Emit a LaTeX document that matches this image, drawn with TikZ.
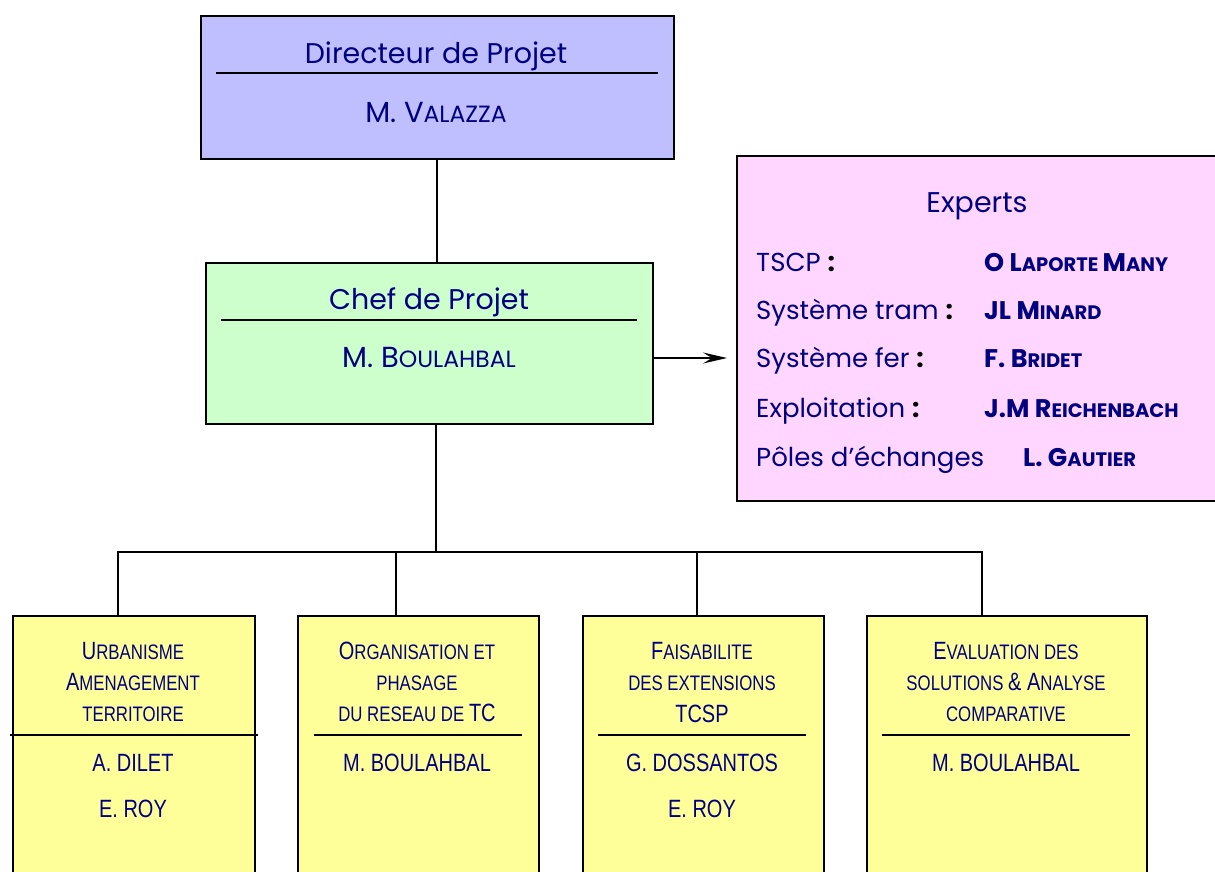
\documentclass[tikz,border=0pt]{standalone}
\usepackage{fontspec}
\setmainfont{Poppins}
\newfontfamily\narrowfont[FakeStretch=0.8]{Liberation Sans}
\usetikzlibrary{arrows.meta}
\definecolor{txt}{RGB}{0,0,128}
\definecolor{dirfill}{RGB}{191,191,255}
\definecolor{cheffill}{RGB}{204,255,204}
\definecolor{expfill}{RGB}{255,214,255}
\definecolor{wpfill}{RGB}{255,255,153}
\newcommand\topT{\fontsize{28.5}{32}\selectfont}
\newcommand\topM{\fontsize{26}{30}\selectfont}
\newcommand\topL{\fontsize{29}{32}\selectfont}
\newcommand\topS{\fontsize{23.5}{27}\selectfont}
\newcommand\eL{\fontsize{25.5}{30}\selectfont\bfseries}
\newcommand\eS{\fontsize{19.5}{23}\selectfont\bfseries}
\newcommand\nL{\narrowfont\fontsize{25}{30}\selectfont}
\newcommand\nS{\narrowfont\fontsize{21}{25}\selectfont}
\newcommand\colonb{{\color{black}\bfseries :}}
\tikzset{
  box/.style={draw=black, line width=1.6pt, rectangle, anchor=north west, inner sep=0pt},
  sep/.style={line width=2pt},
  conn/.style={line width=2pt},
  lbl/.style={anchor=base, inner sep=0pt, text=txt},
  lbll/.style={anchor=base west, inner sep=0pt, text=txt},
}
\begin{document}
\begin{tikzpicture}[x=1pt,y=-1pt]
\useasboundingbox (0,0) rectangle (1215,871);
% boxes
\node[box, fill=dirfill, minimum width=473pt, minimum height=143pt] (dir) at (200,15) {};
\node[box, fill=cheffill, minimum width=447pt, minimum height=161pt] (chef) at (205,262) {};
\node[box, fill=expfill, minimum width=495pt, minimum height=345pt] (exp) at (736,155) {};
\node[box, fill=wpfill, minimum width=242pt, minimum height=300pt] (wp1) at (12,615) {};
\node[box, fill=wpfill, minimum width=241pt, minimum height=300pt] (wp2) at (297,615) {};
\node[box, fill=wpfill, minimum width=241pt, minimum height=300pt] (wp3) at (582,615) {};
\node[box, fill=wpfill, minimum width=280pt, minimum height=300pt] (wp4) at (866,615) {};
% separators
\draw[sep] (216,73) -- (658,73);
\draw[sep] (221,320) -- (637,320);
\draw[sep] (10,735) -- (258,735);
\draw[sep] (314,735) -- (522,735);
\draw[sep] (598,735) -- (806,735);
\draw[sep] (882,735) -- (1130,735);
% connectors
\draw[conn] (dir.south) -- (dir.south |- chef.north);
\coordinate (bus) at (436,552);
\draw[conn] (bus |- chef.south) -- (bus);
\coordinate (t1) at (118,615);
\coordinate (t2) at (396,615);
\coordinate (t3) at (697,615);
\coordinate (t4) at (982,615);
\draw[conn] (t1) -- ++(0,-63) -| (t4);
\draw[conn] (t2) -- ++(0,-63);
\draw[conn] (t3) -- ++(0,-63);
\coordinate (a0) at (652,358);
\coordinate (a1) at (727,358);
\draw[conn, -{Stealth[length=24pt,width=11pt,inset=9pt]}] (a0) -- (a1);
% top texts
\node[lbl] (t-dir) at (436,63) {\topT Directeur de Projet};
\node[lbl] (n-dir) at (436,122) {\topL M. V\topS ALAZZA};
\node[lbl] (t-chef) at (429,309) {\topT Chef de Projet};
\node[lbl] (n-chef) at (429,367) {\topL M. B\topS OULAHBAL};
% experts
\node[lbl] (t-exp) at (977,212) {\topT Experts};
\node[lbll] (e1) at (756,271) {\topM TSCP \colonb};
\node[lbll] (e2) at (756,319) {\topM Système tram \colonb};
\node[lbll] (e3) at (756,367) {\topM Système fer \colonb};
\node[lbll] (e4) at (756,417) {\topM Exploitation \colonb};
\node[lbll] (e5) at (756,466) {\topM Pôles d’échanges};
\node[lbll] (f1) at (984,271) {\eL O L\eS APORTE \eL M\eS ANY};
\node[lbll] (f2) at (984,319) {\eL JL M\eS INARD};
\node[lbll] (f3) at (984,367) {\eL F. B\eS RIDET};
\node[lbll] (f4) at (984,417) {\eL J.M R\eS EICHENBACH};
\node[lbll] (f5) at (1023,466) {\eL L. G\eS AUTIER};
% bottom box texts
\node[lbl] (w1a) at (133,659) {\nL U\nS RBANISME};
\node[lbl] (w1b) at (133,690) {\nL A\nS MENAGEMENT};
\node[lbl] (w1c) at (133,721) {\nS TERRITOIRE};
\node[lbl] (w1d) at (133,771) {\nL A. DILET};
\node[lbl] (w1e) at (133,817) {\nL E. ROY};
\node[lbl] (w2a) at (417,659) {\nL O\nS RGANISATION ET};
\node[lbl] (w2b) at (417,690) {\nS PHASAGE};
\node[lbl] (w2c) at (417,721) {\nS DU RESEAU DE \nL TC};
\node[lbl] (w2d) at (417,771) {\nL M. BOULAHBAL};
\node[lbl] (w3a) at (702,659) {\nL F\nS AISABILITE};
\node[lbl] (w3b) at (702,690) {\nS DES EXTENSIONS};
\node[lbl] (w3c) at (702,722) {\nL TCSP};
\node[lbl] (w3d) at (702,771) {\nL G. DOSSANTOS};
\node[lbl] (w3e) at (702,817) {\nL E. ROY};
\node[lbl] (w4a) at (1006,659) {\nL E\nS VALUATION DES};
\node[lbl] (w4b) at (1006,690) {\nS SOLUTIONS \nL \& A\nS NALYSE};
\node[lbl] (w4c) at (1006,721) {\nS COMPARATIVE};
\node[lbl] (w4d) at (1006,771) {\nL M. BOULAHBAL};
\end{tikzpicture}
\end{document}
